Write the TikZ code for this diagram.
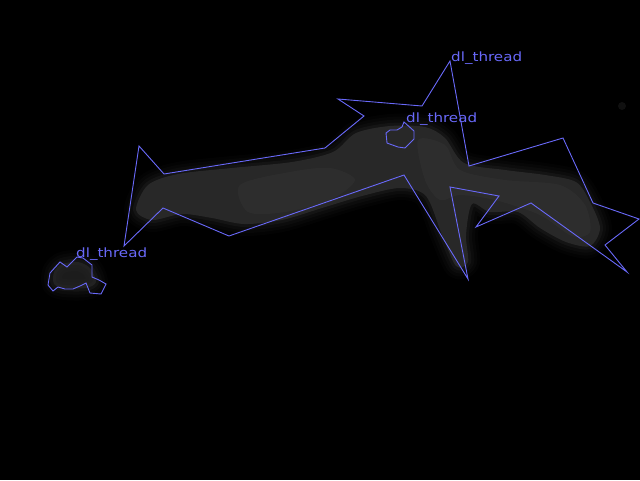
\documentclass[tikz,border=0pt]{standalone}
\usepackage{fontspec}
\newfontfamily\labfont{DejaVu Sans}
\definecolor{segblue}{RGB}{105,105,250}
\definecolor{blobgray}{RGB}{40,40,40}
\definecolor{blobhi}{RGB}{50,50,50}
\tikzset{
  seg/.style={draw=segblue, line width=0.9pt, line join=miter},
  lab/.style={anchor=base west, inner sep=0pt, text=segblue, font=\labfont\fontsize{12.8}{12.8}\selectfont, xscale=1.18},
  halo/.style={draw=blobgray, line join=round, line cap=round},
}
\begin{document}
\begin{tikzpicture}[x=1pt,y=-1pt]
\fill[black] (0,0) rectangle (640,480);
\useasboundingbox (0,0) rectangle (640,480);
% blurred gray blobs
\def\blobA{(136,210) (148,185) (178,174) (232,168) (292,162) (333,152) (356,133) (390,126) (425,127) (445,138) (464,163) (505,170) (545,175) (576,182) (590,202) (600,228) (590,246) (566,242) (540,228) (518,212) (490,212) (472,204) (466,235) (468,262) (456,266) (442,235) (426,196) (400,188) (362,196) (322,208) (282,220) (244,224) (212,218) (182,214) (152,220)}
\def\blobB{(54,272) (62,264) (78,262) (90,268) (96,282) (86,288) (64,288) (54,284)}
\foreach \w/\o in {24/0.08, 18/0.12, 12/0.18, 6/0.3}{
  \draw[halo, line width=\w pt, opacity=\o] plot[smooth cycle] coordinates {\blobA};
  \draw[halo, line width=\w pt, opacity=\o] plot[smooth cycle] coordinates {\blobB};
}
\fill[blobgray] plot[smooth cycle] coordinates {\blobA};
\fill[blobgray, opacity=0.7] plot[smooth cycle] coordinates {\blobB};
% lighter cores
\foreach \o in {0.35,0.35}{
  \fill[blobhi, opacity=\o] plot[smooth cycle] coordinates {(240,185) (290,172) (330,168) (355,180) (330,200) (285,212) (248,212)};
  \fill[blobhi, opacity=\o] plot[smooth cycle] coordinates {(418,140) (445,145) (460,170) (505,180) (560,185) (585,205) (590,232) (572,236) (540,215) (495,200) (460,195) (440,200) (425,180)};
}
\fill[blobgray, opacity=0.4] (622,106) circle (4);
% segmentation polygons
\draw[seg] (450,61) -- (469,166) -- (563,138) -- (593,203) -- (639,219) -- (605,245) -- (627,272) -- (531,203) -- (476,227) -- (499,196) -- (450,187) -- (468,279) -- (404,175) -- (229,236) -- (163,208) -- (124,246) -- (139,146) -- (164,174) -- (325,148) -- (364,116) -- (338,99) -- (422,106) -- cycle;
\draw[seg] (404,122) -- (414,131) -- (414,139) -- (405,148) -- (398,147) -- (387,143) -- (386,133) -- (390,130) -- (397,130) -- (402,127) -- cycle;
\draw[seg] (77,257) -- (83,258) -- (92,265) -- (92,277) -- (99,280) -- (106,284) -- (101,294) -- (90,293) -- (86,283) -- (80,286) -- (73,289) -- (65,289) -- (58,287) -- (53,291) -- (48,285) -- (50,273) -- (60,262) -- (67,267) -- (72,262) -- cycle;
% labels
\node[lab] (l1) at (451,61) {dl\_thread};
\node[lab] (l2) at (406,122) {dl\_thread};
\node[lab] (l3) at (76,257) {dl\_thread};
\end{tikzpicture}
\end{document}
